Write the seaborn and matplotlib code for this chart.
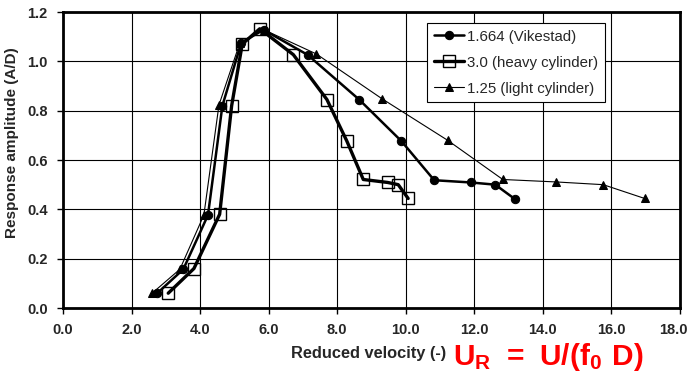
import seaborn as sns
import pandas as pd
import numpy as np
import matplotlib.pyplot as plt
import matplotlib.transforms as mtransforms

# data
vik_x = [2.75, 3.51, 4.23, 4.65, 5.20, 5.85, 7.14, 8.64, 9.87, 10.83, 11.89, 12.61, 13.19]
vik_y = [0.06, 0.157, 0.377, 0.82, 1.075, 1.128, 1.026, 0.845, 0.677, 0.518, 0.509, 0.50, 0.441]

heavy_x = [3.07, 3.82, 4.57, 4.92, 5.23, 5.74, 6.72, 7.70, 8.28, 8.76, 9.47, 9.78, 10.07]
heavy_y = [0.06, 0.16, 0.38, 0.82, 1.07, 1.132, 1.027, 0.845, 0.677, 0.521, 0.509, 0.50, 0.444]

light_x = [2.60, 3.41, 4.11, 4.55, 5.16, 5.86, 7.39, 9.31, 11.22, 12.83, 14.39, 15.76, 16.97]
light_y = [0.06, 0.157, 0.377, 0.823, 1.075, 1.128, 1.03, 0.848, 0.68, 0.521, 0.511, 0.50, 0.444]

labels = ['1.664 (Vikestad)', '3.0 (heavy cylinder)', '1.25 (light cylinder)']
x_ticks = np.arange(0, 18.1, 2.0)
y_ticks = np.arange(0, 1.21, 0.2)

sns.set_style('white')
plt.rcParams['font.family'] = ['Liberation Sans', 'DejaVu Sans']
tick_font = ['Liberation Sans Narrow', 'Liberation Sans']

fig = plt.figure(figsize=(6.9, 3.81), dpi=100)
ax = fig.add_axes([0.0913, 0.1916, 0.8942, 0.7769])

vik = pd.DataFrame({'x': vik_x, 'y': vik_y})
heavy = pd.DataFrame({'x': heavy_x, 'y': heavy_y})
light = pd.DataFrame({'x': light_x, 'y': light_y})

sns.lineplot(data=vik, x='x', y='y', sort=False, estimator=None, ax=ax,
             color='black', linewidth=1.8, marker='o', markersize=6,
             markeredgecolor='black', label=labels[0])
sns.lineplot(data=heavy, x='x', y='y', sort=False, estimator=None, ax=ax,
             color='black', linewidth=2.4, marker='s', markersize=8,
             markerfacecolor='none', markeredgecolor='black', markeredgewidth=1.0,
             label=labels[1])
sns.lineplot(data=light, x='x', y='y', sort=False, estimator=None, ax=ax,
             color='black', linewidth=0.8, marker='^', markersize=6,
             markeredgecolor='black', label=labels[2])

ax.set_xlim(0, 18)
ax.set_ylim(0, 1.2)
ax.set_xticks(x_ticks)
ax.set_yticks(y_ticks)
ax.set_xticklabels([f'{v:.1f}' for v in x_ticks], fontweight='bold', fontsize=10.5,
                   family=tick_font)
ax.set_yticklabels([f'{v:.1f}' for v in y_ticks], fontweight='bold', fontsize=10.5,
                   family=tick_font)
ax.tick_params(axis='both', direction='out', length=4, width=1, color='black',
               bottom=True, left=True, pad=7)
ax.grid(True, color='black', linewidth=0.8)
for sp in ax.spines.values():
    sp.set_color('black')
    sp.set_linewidth(2)

# last x tick label sits against the figure edge, nudge it left a little
last = ax.get_xticklabels()[-1]
last.set_transform(last.get_transform() +
                   mtransforms.ScaledTranslation(-0.07, 0, fig.dpi_scale_trans))

ax.set_xlabel('')
ax.set_ylabel('Response amplitude (A/D)', fontweight='bold', fontsize=11)
ax.yaxis.set_label_coords(-0.072, 0.56)
fig.text(0.534, 0.073, 'Reduced velocity (-)', ha='center', va='center',
         fontweight='bold', fontsize=11.8)
fig.text(0.657, 0.063, r'$\mathregular{U_R\ =\ U/(f_0\ D)}$', ha='left', va='center',
         color='red', fontsize=21.5, fontweight='bold')

leg = ax.legend(loc='upper right', bbox_to_anchor=(0.878, 0.963), borderaxespad=0,
                fontsize=10.8, frameon=True, fancybox=False, framealpha=1,
                edgecolor='black', handlelength=2.0, handletextpad=0.2,
                borderpad=0.45, labelspacing=0.8)
leg.get_frame().set_linewidth(0.8)

fig.savefig('out.png', dpi=100)
